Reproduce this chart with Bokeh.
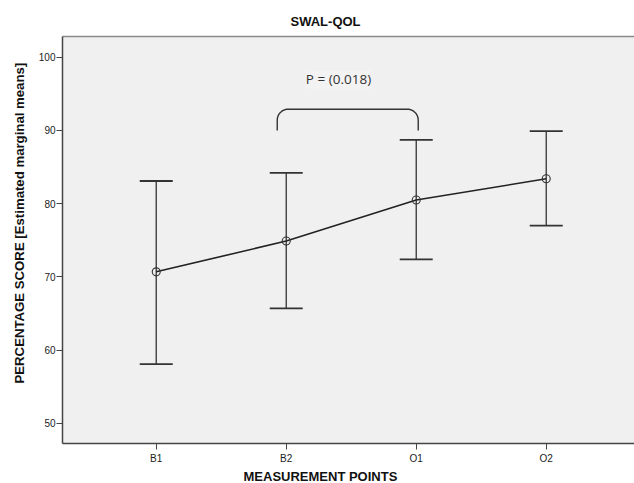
import math
from bokeh.plotting import figure
from bokeh.models import (ColumnDataSource, Whisker, TeeHead, Label, FixedTicker,
                          Range1d, LinearAxis, Title)
from bokeh.embed import file_html
from bokeh.resources import INLINE

# ---- data ----
categories = ["B1", "B2", "O1", "O2"]
means = [70.7, 74.9, 80.5, 83.4]
upper = [83.1, 84.2, 88.7, 89.9]
lower = [58.1, 65.7, 72.4, 77.0]
y_ticks = [50, 60, 70, 80, 90, 100]
title_text = "SWAL-QOL"
x_label = "MEASUREMENT POINTS"
y_label = "PERCENTAGE SCORE [Estimated marginal means]"
p_text = "P = (0.018)"
bracket_from = "B2"
bracket_to = "O1"
bracket_top = 92.9
bracket_bottom = 90.0

xs = [i + 1 for i in range(len(categories))]

W, H = 634, 483
left, right, top, bottom = 62, 0, 36, 40
x0, x1 = 0.279, 4.679
y0, y1 = 47.27, 102.82

font = "Liberation Sans"

p = figure(width=W, height=H, output_backend="svg", toolbar_location=None,
           x_range=Range1d(x0, x1), y_range=Range1d(y0, y1),
           min_border_left=left, min_border_right=right,
           min_border_top=top, min_border_bottom=bottom)
p.background_fill_color = "#F0F0F0"
p.border_fill_color = "white"
p.outline_line_color = None
p.grid.visible = False

p.title.text = title_text
p.title.align = "left"
p.title.offset = 228
p.title.standoff = 16
p.title.text_font = font
p.title.text_font_style = "bold"
p.title.text_font_size = "13px"
p.title.text_color = "#111111"

for ax in (p.xaxis[0], p.yaxis[0]):
    ax.axis_line_color = "#444444"
    ax.axis_line_width = 1.5
    ax.major_tick_line_color = "#444444"
    ax.major_tick_out = 6
    ax.major_tick_in = 0
    ax.minor_tick_line_color = None
    ax.major_label_text_font = font
    ax.major_label_text_font_size = "10px"
    ax.major_label_text_color = "#222222"
    ax.major_label_standoff = 3

p.xaxis.ticker = FixedTicker(ticks=xs)
p.xaxis.major_label_overrides = {x: c for x, c in zip(xs, categories)}
p.yaxis.ticker = FixedTicker(ticks=y_ticks)
p.yaxis.major_label_standoff = 1

# top border line
top_ax = LinearAxis(ticker=FixedTicker(ticks=[]), axis_line_color="#8a8a8a",
                    axis_line_width=1.5, major_tick_line_color=None,
                    minor_tick_line_color=None, major_label_text_font_size="0px",
                    major_label_standoff=0)
p.add_layout(top_ax, "above")

# axis titles
p.add_layout(Title(text=x_label, align="left", offset=181, standoff=0,
                   text_font=font, text_font_style="bold", text_font_size="13px",
                   text_color="#111111"), "below")
p.add_layout(Title(text=y_label, align="left", offset=60, standoff=18,
                   text_font=font, text_font_style="bold", text_font_size="13.2px",
                   text_color="#111111"), "left")

src = ColumnDataSource(dict(x=xs, m=means, up=upper, lo=lower))
wh = Whisker(base="x", upper="up", lower="lo", source=src,
             line_color="#333333", line_width=1.3,
             upper_head=TeeHead(size=33, line_color="#333333", line_width=1.8),
             lower_head=TeeHead(size=33, line_color="#333333", line_width=1.8))
p.add_layout(wh)
p.line("x", "m", source=src, line_color="#222222", line_width=1.6)
p.scatter("x", "m", source=src, marker="circle", size=8, fill_color=None,
          line_color="#333333", line_width=1.1)

# bracket
px_per_x = (W - left - right) / (x1 - x0)
px_per_y = (H - top - bottom) / (y1 - y0)
bx0 = xs[categories.index(bracket_from)] - 9 / px_per_x
bx1 = xs[categories.index(bracket_to)] + 2 / px_per_x
r = 11
rx = r / px_per_x
ry = r / px_per_y
def arc_pts(cx, cy, a0, a1, n=12):
    ptsx, ptsy = [], []
    for i in range(n + 1):
        a = a0 + (a1 - a0) * i / n
        ptsx.append(cx + rx * math.cos(a))
        ptsy.append(cy + ry * math.sin(a))
    return ptsx, ptsy
lx, ly = arc_pts(bx0 + rx, bracket_top - ry, math.pi, math.pi / 2)
rxs, rys = arc_pts(bx1 - rx, bracket_top - ry, math.pi / 2, 0)
bxs = [bx0] + lx + rxs + [bx1]
bys = [bracket_bottom] + ly + rys + [bracket_bottom]
p.line(bxs, bys, line_color="#333333", line_width=1.4)

p.add_layout(Label(x=2.402, y=96.96, text=p_text, text_font="Open Sans",
                   text_font_size="13.5px", text_color="#333333",
                   text_align="center", text_baseline="middle",
                   background_fill_color="#F3F3F3"))

open("out.html", "w").write(file_html(p, INLINE))
